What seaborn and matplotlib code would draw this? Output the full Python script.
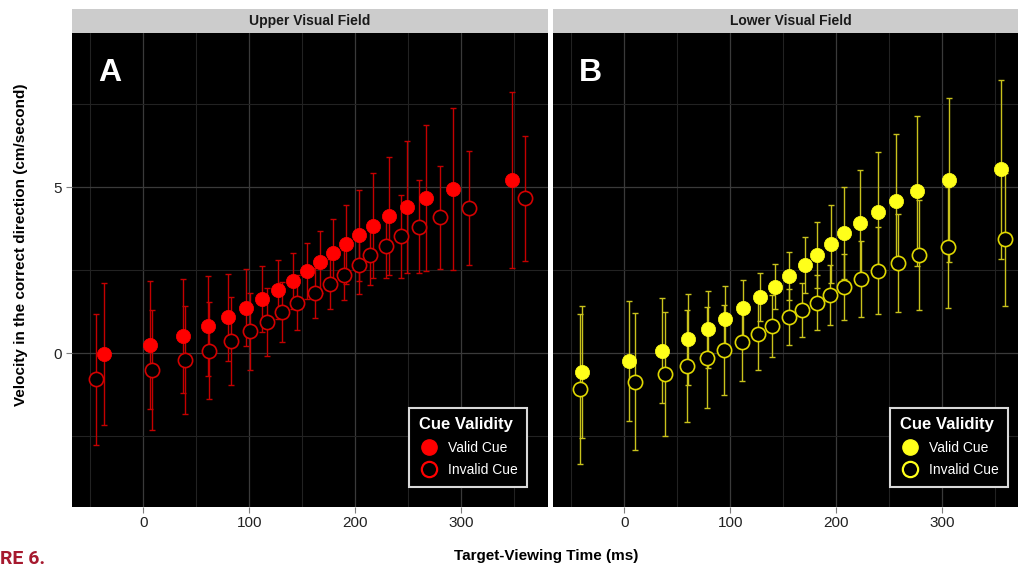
import matplotlib
matplotlib.use("Agg")
import matplotlib.pyplot as plt
from matplotlib.lines import Line2D
from matplotlib.ticker import MultipleLocator
import numpy as np
import pandas as pd
import seaborn as sns

sns.set_theme(style="white")
plt.rcParams['font.family'] = ['Liberation Sans', 'DejaVu Sans']

# ---- data ----
panels = ["Upper Visual Field", "Lower Visual Field"]
panel_letters = ["A", "B"]
cue_levels = ["Valid Cue", "Invalid Cue"]

# Upper visual field (A)
upper_valid_t = [-37, 6, 37, 61, 80, 97, 112, 127, 141, 154,
                 167, 179, 191, 203, 217, 232, 249, 267, 292, 348]
upper_valid_v = [-0.03, 0.23, 0.51, 0.81, 1.07, 1.36, 1.63, 1.91, 2.17, 2.47,
                 2.74, 3.01, 3.27, 3.55, 3.83, 4.13, 4.39, 4.67, 4.94, 5.21]
upper_valid_err = [2.15, 1.93, 1.72, 1.51, 1.31, 1.16, 1.00, 0.90, 0.83, 0.84,
                   0.93, 1.03, 1.20, 1.37, 1.58, 1.78, 1.99, 2.20, 2.43, 2.64]
upper_invalid_t = [-45, 8, 39, 62, 83, 101, 117, 131, 145, 162,
                   176, 189, 203, 214, 229, 243, 260, 280, 307, 360]
upper_invalid_v = [-0.79, -0.51, -0.21, 0.07, 0.36, 0.65, 0.93, 1.23, 1.52, 1.80,
                   2.08, 2.35, 2.65, 2.94, 3.22, 3.51, 3.80, 4.09, 4.37, 4.66]
upper_invalid_err = [1.97, 1.80, 1.63, 1.46, 1.32, 1.16, 1.02, 0.90, 0.82, 0.76,
                     0.75, 0.76, 0.86, 0.90, 0.97, 1.24, 1.40, 1.55, 1.72, 1.88]

# Lower visual field (B)
lower_valid_t = [-40, 4, 36, 60, 79, 95, 112, 128, 142, 155,
                 170, 182, 195, 207, 222, 239, 256, 276, 306, 355]
lower_valid_v = [-0.56, -0.24, 0.07, 0.41, 0.72, 1.02, 1.36, 1.68, 2.00, 2.33,
                 2.64, 2.96, 3.29, 3.61, 3.92, 4.25, 4.57, 4.88, 5.21, 5.53]
lower_valid_err = [1.99, 1.80, 1.58, 1.36, 1.16, 0.99, 0.84, 0.73, 0.67, 0.72,
                   0.84, 0.99, 1.17, 1.38, 1.58, 1.81, 2.02, 2.25, 2.48, 2.69]
lower_invalid_t = [-42, 10, 38, 59, 78, 94, 111, 126, 139, 155,
                   168, 182, 194, 207, 223, 239, 258, 278, 305, 359]
lower_invalid_v = [-1.09, -0.86, -0.63, -0.39, -0.14, 0.09, 0.33, 0.58, 0.81, 1.08,
                   1.30, 1.52, 1.75, 1.99, 2.23, 2.48, 2.72, 2.96, 3.19, 3.42]
lower_invalid_err = [2.26, 2.06, 1.88, 1.70, 1.52, 1.35, 1.18, 1.08, 0.93, 0.85,
                     0.82, 0.84, 0.90, 1.00, 1.15, 1.32, 1.48, 1.65, 1.82, 2.01]

x_ticks = [0, 100, 200, 300]
y_ticks = [0, 5]

rows = []
for field, cue, t, v, e in [
    (panels[0], cue_levels[0], upper_valid_t, upper_valid_v, upper_valid_err),
    (panels[0], cue_levels[1], upper_invalid_t, upper_invalid_v, upper_invalid_err),
    (panels[1], cue_levels[0], lower_valid_t, lower_valid_v, lower_valid_err),
    (panels[1], cue_levels[1], lower_invalid_t, lower_invalid_v, lower_invalid_err),
]:
    for ti, vi, ei in zip(t, v, e):
        rows.append({"field": field, "cue": cue, "time": ti, "vel": vi, "err": ei})
df = pd.DataFrame(rows)

# colours per panel: fill, open-edge, error bar
fills = {panels[0]: "#ff0000", panels[1]: "#ffff1a"}
edges = {panels[0]: "#d40000", panels[1]: "#e0d800"}
bars = {panels[0]: "#c40000", panels[1]: "#c9c21c"}

W, H = 1018, 572
fig = plt.figure(figsize=(W / 100, H / 100), dpi=100)
fig.patch.set_facecolor("white")

ax_left = [71.7, 552.7]
ax_w = 476.6
ax_top, ax_bot = 33.0, 506.7

for i, field in enumerate(panels):
    ax = fig.add_axes([ax_left[i] / W, 1 - ax_bot / H, ax_w / W, (ax_bot - ax_top) / H])
    ax.set_facecolor("black")
    sub = df[df["field"] == field]

    for cue in cue_levels:
        d = sub[sub["cue"] == cue]
        ax.errorbar(d["time"], d["vel"], yerr=d["err"], fmt="none",
                    ecolor=bars[field], elinewidth=1.0, capsize=2.5,
                    capthick=1.0, zorder=2)

    dv = sub[sub["cue"] == cue_levels[0]]
    di = sub[sub["cue"] == cue_levels[1]]
    sns.scatterplot(data=dv, x="time", y="vel", ax=ax, color=fills[field],
                    s=105, edgecolor=fills[field], linewidth=0.5, zorder=3,
                    legend=False)
    sns.scatterplot(data=di, x="time", y="vel", ax=ax, facecolor="black",
                    s=105, edgecolor=edges[field], linewidth=1.2, zorder=3,
                    legend=False)

    ax.set_xlim(-67.5, 382)
    ax.set_ylim(-4.63, 9.64)
    ax.set_xticks(x_ticks)
    ax.set_yticks(y_ticks)
    ax.xaxis.set_minor_locator(MultipleLocator(50))
    ax.yaxis.set_minor_locator(MultipleLocator(2.5))
    ax.grid(which="major", color="#3a3a3a", linewidth=0.9)
    ax.grid(which="minor", color="#222222", linewidth=0.8)
    ax.set_axisbelow(True)
    for s in ax.spines.values():
        s.set_visible(False)
    ax.tick_params(which="major", length=4, color="#7f7f7f", width=0.8,
                   labelsize=11, labelcolor="#222222", pad=3,
                   bottom=True, left=(i == 0))
    ax.tick_params(which="minor", length=0)
    if i == 1:
        ax.set_yticklabels([])
    ax.set_xlabel("")
    ax.set_ylabel("")

    ax.text(0.055, 0.915, panel_letters[i], transform=ax.transAxes,
            color="white", fontsize=23, fontweight="bold", va="center", ha="left")

    handles = [
        Line2D([], [], marker="o", linestyle="none", markersize=11,
               markerfacecolor=fills[field], markeredgecolor=fills[field]),
        Line2D([], [], marker="o", linestyle="none", markersize=11,
               markerfacecolor="black", markeredgecolor=fills[field],
               markeredgewidth=1.6),
    ]
    leg = ax.legend(handles, cue_levels, title="Cue Validity", loc="lower right",
                    bbox_to_anchor=(0.956, 0.042), borderaxespad=0,
                    fancybox=False, facecolor="black", edgecolor="#d9d9d9",
                    framealpha=1, fontsize=10, labelcolor="white",
                    handletextpad=0.6, borderpad=0.7, labelspacing=0.6,
                    handlelength=1.5)
    leg.get_frame().set_linewidth(1.5)
    leg.get_title().set_color("white")
    leg.get_title().set_fontweight("bold")
    leg.get_title().set_fontsize(12)
    leg._legend_box.align = "left"

    # facet strip
    sax = fig.add_axes([ax_left[i] / W, 1 - ax_top / H, ax_w / W, 24.5 / H])
    sax.set_facecolor("#cccccc")
    sax.set_xticks([])
    sax.set_yticks([])
    for s in sax.spines.values():
        s.set_visible(False)
    sax.text(0.5, 0.5, field, transform=sax.transAxes, ha="center", va="center",
             fontsize=10, fontweight="bold", color="#1a1a1a")

fig.text(546 / W, 1 - 556 / H, "Target-Viewing Time (ms)", ha="center",
         va="center", fontsize=11, fontweight="bold", color="black")
fig.text(21 / W, 1 - 245 / H, "Velocity in the correct direction (cm/second)",
         ha="center", va="center", rotation=90, fontsize=11,
         fontweight="bold", color="black")
# the reference is cropped on the left, only the tail of the caption shows
fig.text(0.5 / W, 1 - 559 / H, "RE 6.", ha="left", va="center",
         fontsize=14, fontweight="bold", color="#a6192e",
         family=["Roboto", "DejaVu Sans"])

fig.savefig("out.png", dpi=100, facecolor="white")
